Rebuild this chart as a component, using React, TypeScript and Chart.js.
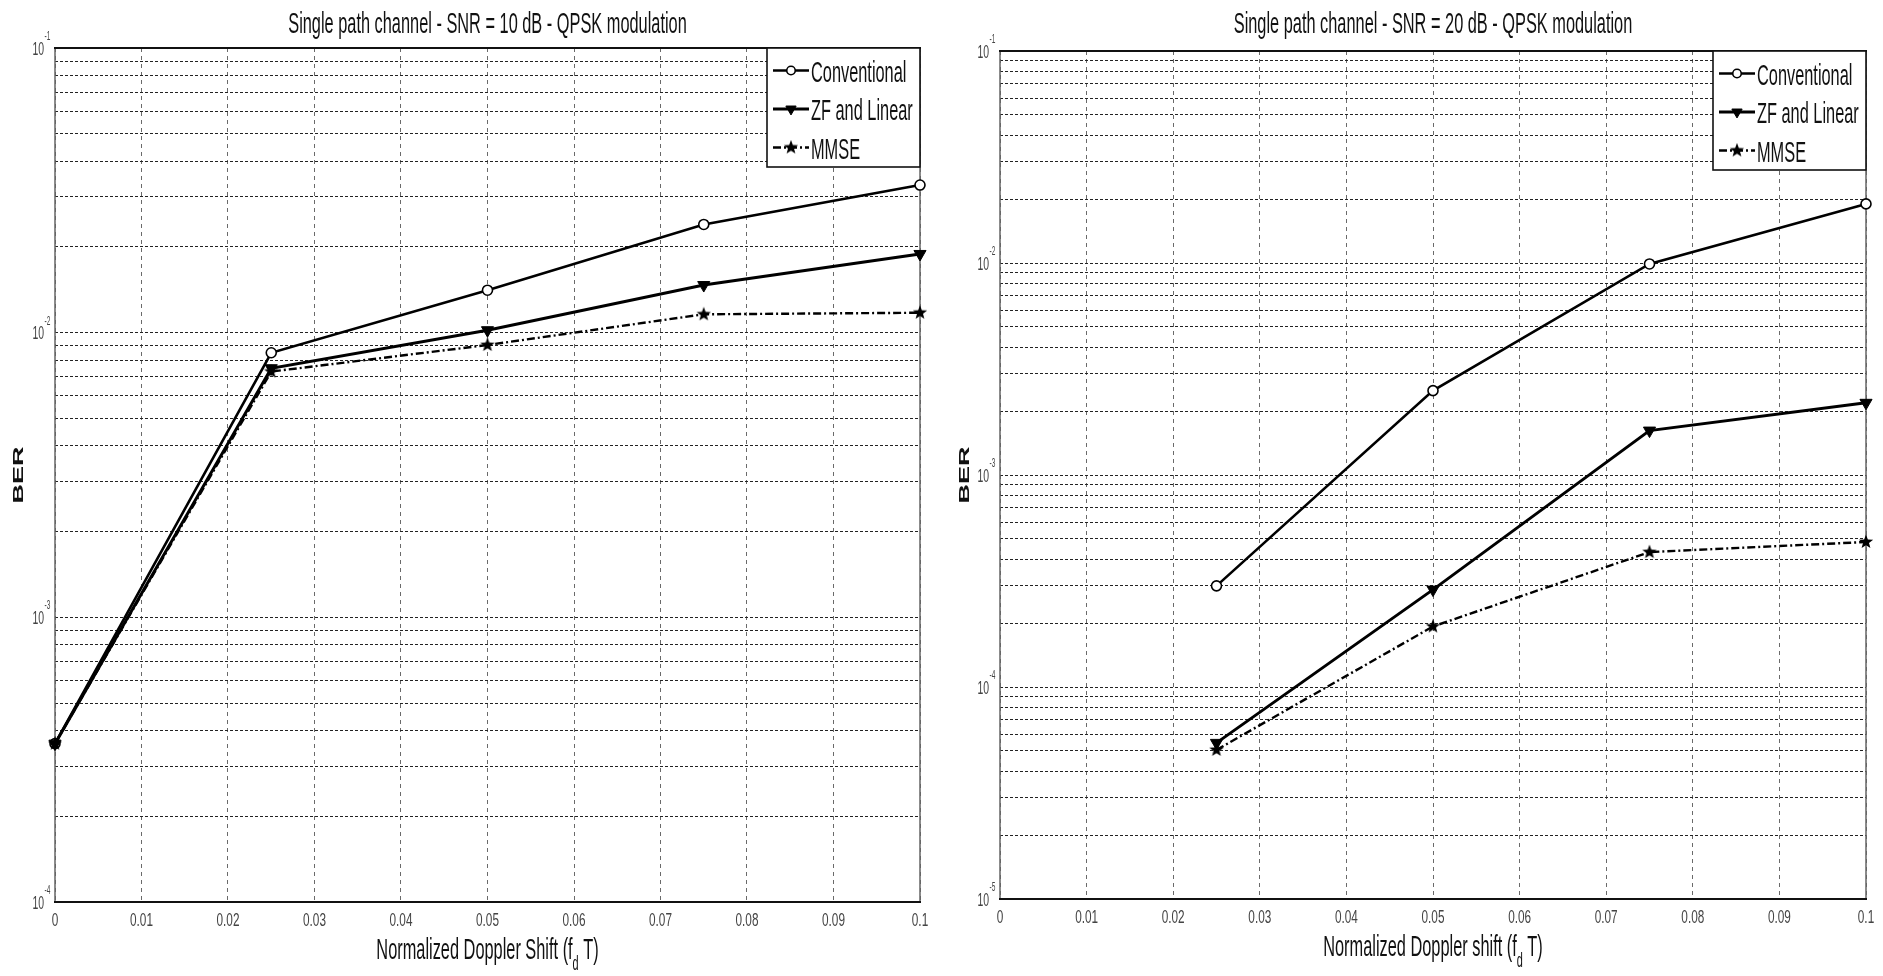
import React, { useEffect, useRef } from "react";
import { Chart, registerables } from "chart.js";
import { drawPoint } from "chart.js/helpers";

Chart.register(...registerables);

const FONT = '"Liberation Sans", Arial, sans-serif';

const seriesNames = ["Conventional", "ZF and Linear", "MMSE"];

// SNR = 10 dB
const xLeft = [0, 0.025, 0.05, 0.075, 0.1];
const convLeft = [3.6e-4, 8.5e-3, 1.41e-2, 2.4e-2, 3.3e-2];
const zfLeft = [3.6e-4, 7.5e-3, 1.02e-2, 1.47e-2, 1.89e-2];
const mmseLeft = [3.6e-4, 7.3e-3, 9.05e-3, 1.16e-2, 1.175e-2];

// SNR = 20 dB
const xRight = [0.025, 0.05, 0.075, 0.1];
const convRight = [3.0e-4, 2.5e-3, 9.9e-3, 1.9e-2];
const zfRight = [5.45e-5, 2.88e-4, 1.62e-3, 2.19e-3];
const mmseRight = [5.05e-5, 1.93e-4, 4.33e-4, 4.83e-4];

const xTicks = [0, 0.01, 0.02, 0.03, 0.04, 0.05, 0.06, 0.07, 0.08, 0.09, 0.1];
const xTickLabels = ["0", "0.01", "0.02", "0.03", "0.04", "0.05", "0.06", "0.07", "0.08", "0.09", "0.1"];
const decadesLeft = [-4, -3, -2, -1];
const decadesRight = [-5, -4, -3, -2, -1];
const minorSteps = [1, 2, 3, 4, 5, 6, 7, 8, 9];

// draws text squashed horizontally, like the scanned matlab figure
function squeezed(ctx: any, text: string, x: number, y: number, size: number, o: any = {}) {
  const sx = o.sx ?? 0.545;
  ctx.save();
  ctx.font = `${o.weight || "normal"} ${size}px ${FONT}`;
  ctx.fillStyle = o.color || "#111";
  ctx.textBaseline = "alphabetic";
  ctx.textAlign = "left";
  const w = ctx.measureText(text).width * sx;
  const x0 = o.align === "center" ? x - w / 2 : o.align === "right" ? x - w : x;
  ctx.translate(x0, y);
  ctx.scale(sx, 1);
  ctx.fillText(text, 0, 0);
  ctx.restore();
  return w;
}

function textWidth(ctx: any, text: string, size: number, sx = 0.545) {
  ctx.save();
  ctx.font = `${size}px ${FONT}`;
  const w = ctx.measureText(text).width * sx;
  ctx.restore();
  return w;
}

function makeStar(size: number) {
  const c = document.createElement("canvas");
  c.width = size;
  c.height = size;
  const g = c.getContext("2d")!;
  const r = size / 2 - 0.5;
  const ri = r * 0.42;
  g.beginPath();
  for (let i = 0; i < 10; i++) {
    const a = -Math.PI / 2 + (i * Math.PI) / 5;
    const rr = i % 2 === 0 ? r : ri;
    g.lineTo(size / 2 + rr * Math.cos(a), size / 2 + rr * Math.sin(a));
  }
  g.closePath();
  g.fillStyle = "#000";
  g.fill();
  return c;
}

type Props = {
  width: number;
  pad: { left: number; right: number; top: number; bottom: number };
  title: string;
  xTitle: string[];
  xs: number[];
  series: number[][];
  decades: number[];
  berX: number;
};

const BerChart = ({ width, pad, title, xTitle, xs, series, decades, berX }: Props) => {
  const chartRef = useRef<any>(null);

  useEffect(() => {
    const ctx = chartRef.current.getContext("2d");
    const star = makeStar(16);

    // order: ZF markers end up on top where the curves meet
    const styles: any[] = [
      { order: 3, borderWidth: 2.6, pointStyle: "circle", pointRadius: 5, pointBackgroundColor: "#fff", pointBorderColor: "#000", pointBorderWidth: 1.6 },
      { order: 1, borderWidth: 3, pointStyle: "triangle", pointRotation: 180, pointRadius: 7, pointBackgroundColor: "#000", pointBorderColor: "#000", pointBorderWidth: 1 },
      { order: 2, borderWidth: 2.4, borderDash: [8, 3, 2, 3], pointStyle: star, pointRadius: 7, pointBackgroundColor: "#000", pointBorderColor: "#000", pointBorderWidth: 0 },
    ];

    const yTicks: number[] = [];
    decades.slice(0, -1).forEach((e) => minorSteps.forEach((m) => yTicks.push(m * Math.pow(10, e))));
    yTicks.push(Math.pow(10, decades[decades.length - 1]));

    const matlabLook = {
      id: "matlabLook",
      beforeDatasetsDraw(chart: any) {
        const { ctx: c, chartArea: a } = chart;
        c.save();
        c.setLineDash([]);
        c.lineWidth = 1.5;
        c.strokeStyle = "#666";
        c.beginPath();
        c.moveTo(a.left, a.top);
        c.lineTo(a.left, a.bottom);
        c.moveTo(a.right, a.top);
        c.lineTo(a.right, a.bottom);
        c.stroke();
        c.lineWidth = 2.2;
        c.strokeStyle = "#111";
        c.beginPath();
        c.moveTo(a.left - 1, a.top);
        c.lineTo(a.right + 1, a.top);
        c.moveTo(a.left - 1, a.bottom);
        c.lineTo(a.right + 1, a.bottom);
        c.stroke();
        c.restore();
      },
      afterDatasetsDraw(chart: any) {
        const { ctx: c, chartArea: a } = chart;
        const r = a.right;
        const t = a.top;
        c.save();
        c.setLineDash([]);
        c.fillStyle = "#fff";
        c.fillRect(r - 153, t, 153, 119);
        c.lineWidth = 1.6;
        c.strokeStyle = "#111";
        c.strokeRect(r - 153, t, 153, 119);
        chart.data.datasets.forEach((ds: any, k: number) => {
          const cy = t + 22.5 + 38.5 * k;
          c.save();
          c.strokeStyle = "#000";
          c.lineWidth = ds.borderWidth;
          c.setLineDash(ds.borderDash || []);
          c.beginPath();
          c.moveTo(r - 147, cy);
          c.lineTo(r - 111, cy);
          c.stroke();
          c.restore();
          c.save();
          c.setLineDash([]);
          c.fillStyle = ds.pointBackgroundColor;
          c.strokeStyle = ds.pointBorderColor;
          c.lineWidth = ds.pointBorderWidth;
          drawPoint(c, { pointStyle: ds.pointStyle, rotation: ds.pointRotation || 0, radius: ds.pointRadius * 0.85, borderWidth: ds.pointBorderWidth }, r - 129, cy);
          c.restore();
          squeezed(c, ds.label, r - 109, cy + 11, 30);
        });
        c.restore();
      },
      afterDraw(chart: any) {
        const { ctx: c, chartArea: a, scales } = chart;
        const cx = (a.left + a.right) / 2;
        squeezed(c, title, cx, 33, 30, { align: "center" });

        xTicks.forEach((v, i) => {
          const px = scales.x.getPixelForValue(v);
          squeezed(c, xTickLabels[i], px, a.bottom + 23.5, 19, { sx: 0.62, align: "center", color: "#444" });
        });
        decades.forEach((e) => {
          const py = scales.y.getPixelForValue(Math.pow(10, e));
          squeezed(c, "10", a.left - 11, py + 6.5, 18, { sx: 0.58, align: "right", color: "#444" });
          squeezed(c, String(e), a.left - 10.5, py - 8, 12, { color: "#444" });
        });

        // x title with subscript
        const w1 = textWidth(c, xTitle[0], 30);
        const w2 = textWidth(c, xTitle[1], 20);
        const w3 = textWidth(c, xTitle[2], 30);
        const base = a.bottom + 57;
        let x0 = cx - (w1 + w2 + w3) / 2;
        squeezed(c, xTitle[0], x0, base, 30);
        x0 += w1;
        squeezed(c, xTitle[1], x0, base + 11, 20);
        x0 += w2;
        squeezed(c, xTitle[2], x0, base, 30);

        c.save();
        c.translate(berX, (a.top + a.bottom) / 2);
        c.rotate(-Math.PI / 2);
        c.scale(1, 0.57);
        c.font = `bold 27px ${FONT}`;
        c.fillStyle = "#111";
        c.textAlign = "center";
        c.textBaseline = "alphabetic";
        c.fillText("BER", 0, 0);
        c.restore();
      },
    };

    const myChart = new Chart(ctx, {
      type: "line",
      data: {
        datasets: series.map((ys, k) => ({
          label: seriesNames[k],
          data: xs.map((x, i) => ({ x, y: ys[i] })),
          borderColor: "#000",
          fill: false,
          clip: false as any,
          ...styles[k],
        })),
      },
      options: {
        animation: false,
        responsive: false,
        layout: { padding: pad, autoPadding: false },
        plugins: {
          legend: { display: false },
          title: { display: false },
          tooltip: { enabled: false },
        },
        scales: {
          x: {
            type: "linear",
            min: 0,
            max: 0.1,
            afterBuildTicks: (s: any) => {
              s.ticks = xTicks.map((v) => ({ value: v }));
            },
            ticks: { display: false },
            grid: { color: "#6a6a6a", lineWidth: 1, drawTicks: false },
            border: { display: false, dash: [4, 4] },
          },
          y: {
            type: "logarithmic",
            min: Math.pow(10, decades[0]),
            max: Math.pow(10, decades[decades.length - 1]),
            afterBuildTicks: (s: any) => {
              s.ticks = yTicks.map((v) => ({ value: v }));
            },
            ticks: { display: false },
            grid: { color: "#222", lineWidth: 1, drawTicks: false },
            border: { display: false, dash: [3, 2] },
          },
        },
      } as any,
      plugins: [matlabLook],
    });

    return () => {
      myChart.destroy();
    };
  }, [width, pad, title, xTitle, xs, series, decades, berX]);

  return <canvas ref={chartRef} width={width} height={976} style={{ display: "block" }}></canvas>;
};

const App = () => {
  return (
    <div style={{ position: "fixed", left: 0, top: 0, width: 1883, height: 976, background: "#fff", overflow: "hidden" }}>
      <div style={{ position: "absolute", left: 0, top: 0 }}>
        <BerChart
          width={940}
          pad={{ left: 55, right: 20, top: 48, bottom: 74 }}
          title="Single path channel - SNR = 10 dB - QPSK modulation"
          xTitle={["Normalized Doppler Shift (f", "d", " T)"]}
          xs={xLeft}
          series={[convLeft, zfLeft, mmseLeft]}
          decades={decadesLeft}
          berX={23}
        />
      </div>
      <div style={{ position: "absolute", left: 940, top: 0 }}>
        <BerChart
          width={943}
          pad={{ left: 60, right: 17, top: 51, bottom: 77 }}
          title="Single path channel - SNR = 20 dB - QPSK modulation"
          xTitle={["Normalized Doppler shift (f", "d", " T)"]}
          xs={xRight}
          series={[convRight, zfRight, mmseRight]}
          decades={decadesRight}
          berX={29}
        />
      </div>
    </div>
  );
};

export default App;
